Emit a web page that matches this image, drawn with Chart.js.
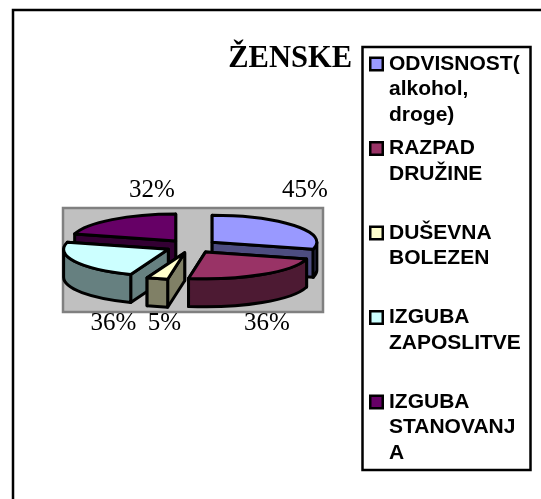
<!DOCTYPE html>
<html>
<head>
<meta charset="utf-8">
<style>html,body{margin:0;padding:0;background:#fff}canvas{display:block}</style>
<script src="https://cdn.jsdelivr.net/npm/chart.js@4"></script>
</head>
<body>
<canvas id="c" width="541" height="499"></canvas>
<script>
const titleText = 'ŽENSKE';
const categories = ['ODVISNOST(alkohol,droge)', 'RAZPAD DRUŽINE', 'DUŠEVNA BOLEZEN', 'IZGUBA ZAPOSLITVE', 'IZGUBA STANOVANJA'];
const legendLines = [['ODVISNOST(', 'alkohol,', 'droge)'], ['RAZPAD', 'DRUŽINE'], ['DUŠEVNA', 'BOLEZEN'], ['IZGUBA', 'ZAPOSLITVE'], ['IZGUBA', 'STANOVANJ', 'A']];
const values = [45, 36, 5, 36, 32];
const sliceColors = ['#9999ff', '#993366', '#ffffcc', '#ccffff', '#660066'];
const wallColors = ['#4d4d80', '#4d1a33', '#808066', '#668080', '#330033'];
const valueLabels = ['45%', '36%', '5%', '36%', '32%'];

const SQUASH = 0.257, DEPTH = 28, EXPLODE = 26, STROKE = 3;
const PAINT_ORDER = [4, 0, 3, 1, 2];
const LABEL_XY = [[305, 190], [267, 323], [164.5, 323], [113.5, 323], [152, 190]];
const PLOT = {x: 63, y: 208, w: 260, h: 104};
const FRAME = {x: 13, y: 10, w: 560, h: 520};
const LEGEND = {x: 362.5, y: 47, w: 168, h: 423, sw: 370.25, tx: 389, first: 64, group: 84.5, line: 25.6};

const pie3d = {
  id: 'pie3d',
  beforeDraw(chart) {
    const c = chart.ctx;
    c.save();
    c.fillStyle = '#fff'; c.fillRect(0, 0, chart.width, chart.height);
    c.strokeStyle = '#000'; c.lineWidth = 2.5;
    c.strokeRect(FRAME.x, FRAME.y, FRAME.w, FRAME.h);
    c.fillStyle = '#c0c0c0'; c.strokeStyle = '#808080'; c.lineWidth = 2.5;
    c.fillRect(PLOT.x, PLOT.y, PLOT.w, PLOT.h);
    c.strokeRect(PLOT.x, PLOT.y, PLOT.w, PLOT.h);
    c.restore();
  },
  beforeDatasetsDraw(chart) {
    const c = chart.ctx, arcs = chart.getDatasetMeta(0).data;
    c.save();
    c.lineJoin = 'round'; c.lineWidth = STROKE; c.strokeStyle = '#000';
    for (const i of PAINT_ORDER) {
      const a = arcs[i], rx = a.outerRadius, ry = rx * SQUASH;
      const s = a.startAngle, e = a.endAngle, m = (s + e) / 2;
      const cx = a.x + Math.cos(m) * EXPLODE, cy = a.y + Math.sin(m) * EXPLODE * SQUASH;
      const pt = t => [cx + rx * Math.cos(t), cy + ry * Math.sin(t)];
      const paint = (col) => { c.fillStyle = col; c.fill(); c.stroke(); };
      const faces = [s, e].sort((p, q) => Math.sin(p) - Math.sin(q));
      for (const t of faces) {
        const [px, py] = pt(t);
        c.beginPath(); c.moveTo(cx, cy); c.lineTo(px, py); c.lineTo(px, py + DEPTH); c.lineTo(cx, cy + DEPTH); c.closePath();
        paint(wallColors[i]);
      }
      const w0 = Math.max(s, 0), w1 = Math.min(e, Math.PI);
      if (w1 > w0) {
        c.beginPath(); c.ellipse(cx, cy, rx, ry, 0, w0, w1);
        c.ellipse(cx, cy + DEPTH, rx, ry, 0, w1, w0, true); c.closePath();
        paint(wallColors[i]);
      }
      c.beginPath(); c.moveTo(cx, cy); c.ellipse(cx, cy, rx, ry, 0, s, e); c.closePath();
      paint(sliceColors[i]);
    }
    c.restore();
    return false;
  },
  afterDraw(chart) {
    const c = chart.ctx;
    c.save();
    c.textBaseline = 'middle'; c.textAlign = 'center'; c.fillStyle = '#000';
    c.font = '25px "Liberation Serif"';
    valueLabels.forEach((t, i) => c.fillText(t, LABEL_XY[i][0], LABEL_XY[i][1]));
    c.fillStyle = '#fff'; c.strokeStyle = '#000'; c.lineWidth = 2.5;
    c.fillRect(LEGEND.x, LEGEND.y, LEGEND.w, LEGEND.h);
    c.strokeRect(LEGEND.x, LEGEND.y, LEGEND.w, LEGEND.h);
    c.textAlign = 'left'; c.font = 'bold 21px "Liberation Sans"';
    legendLines.forEach((lines, i) => {
      const y0 = LEGEND.first + i * LEGEND.group;
      c.fillStyle = sliceColors[i]; c.lineWidth = 2.5;
      c.fillRect(LEGEND.sw, y0 - 6.25, 12.5, 12.5); c.strokeRect(LEGEND.sw, y0 - 6.25, 12.5, 12.5);
      c.fillStyle = '#000';
      lines.forEach((t, k) => c.fillText(t, LEGEND.tx, y0 + k * LEGEND.line));
    });
    c.restore();
  }
};

new Chart(document.getElementById('c'), {
  type: 'pie',
  data: {labels: categories, datasets: [{data: values, backgroundColor: sliceColors, borderColor: '#000', borderWidth: 2}]},
  options: {
    responsive: false, animation: false,
    layout: {padding: {left: 31, right: 189, top: 41, bottom: 147}},
    plugins: {
      legend: {display: false}, tooltip: {enabled: false},
      title: {display: true, text: titleText, align: 'end', color: '#000',
        font: {family: '"Liberation Serif"', size: 30.5, weight: 'bold'}, padding: {top: 0, bottom: 63}}
    }
  },
  plugins: [pie3d]
});
</script>
</body>
</html>
